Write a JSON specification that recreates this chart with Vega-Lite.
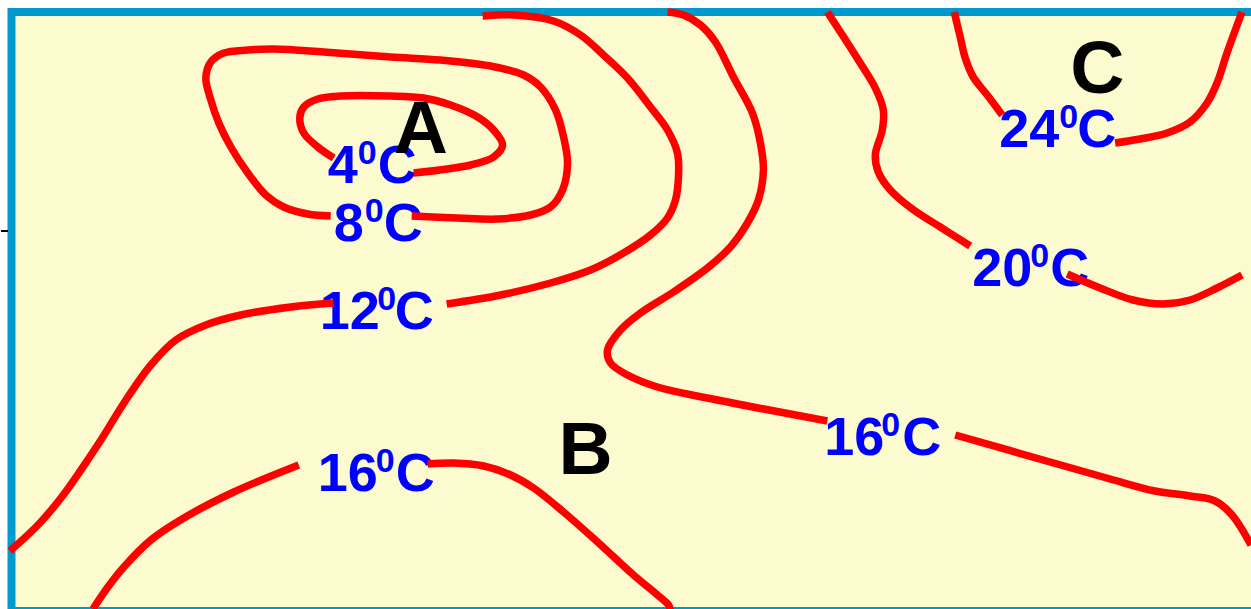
{"$schema":"https://vega.github.io/schema/vega-lite/v6.json","width":1251,"height":609,"autosize":{"type":"fit","contains":"padding"},"padding":0,"background":"#ffffff","view":{"stroke":null},"config":{"axis":{"disable":true}},"datasets":{"map":[{"x":10.5,"y":12,"x2":1262,"y2":611}],"tick":[{"x":0,"x2":7,"y":231}],"numbers":[{"x":327,"y":183,"t":"4"},{"x":333,"y":241,"t":"8"},{"x":319,"y":329,"t":"12"},{"x":317,"y":491,"t":"16"},{"x":824,"y":455,"t":"16"},{"x":972,"y":286,"t":"20"},{"x":999,"y":147,"t":"24"},{"x":377,"y":183,"t":"C"},{"x":383,"y":241,"t":"C"},{"x":394,"y":329,"t":"C"},{"x":395,"y":491,"t":"C"},{"x":902,"y":455,"t":"C"},{"x":1050,"y":286,"t":"C"},{"x":1077,"y":147,"t":"C"}],"sups":[{"x":357,"y":164,"t":"0"},{"x":364,"y":222,"t":"0"},{"x":376.5,"y":310,"t":"0"},{"x":375,"y":472,"t":"0"},{"x":881,"y":436,"t":"0"},{"x":1030,"y":267,"t":"0"},{"x":1059,"y":128,"t":"0"}],"letters":[{"x":393,"y":153,"t":"A"},{"x":558,"y":473.5,"t":"B"},{"x":1070,"y":93,"t":"C"}],"lines":[
{"id":"4a","i":0,"x":333,"y":158},{"id":"4a","i":1,"x":317,"y":147},{"id":"4a","i":2,"x":303,"y":133},{"id":"4a","i":3,"x":299,"y":118},{"id":"4a","i":4,"x":303,"y":107},{"id":"4a","i":5,"x":317,"y":99},{"id":"4a","i":6,"x":340,"y":96},{"id":"4a","i":7,"x":390,"y":96},{"id":"4a","i":8,"x":423,"y":98},{"id":"4a","i":9,"x":450,"y":105},{"id":"4a","i":10,"x":477,"y":117},{"id":"4a","i":11,"x":493,"y":130},{"id":"4a","i":12,"x":502,"y":145},{"id":"4a","i":13,"x":493,"y":157},{"id":"4a","i":14,"x":470,"y":165},{"id":"4a","i":15,"x":413,"y":173},
{"id":"8a","i":0,"x":330,"y":216},{"id":"8a","i":1,"x":307,"y":214},{"id":"8a","i":2,"x":283,"y":207},{"id":"8a","i":3,"x":265,"y":195},{"id":"8a","i":4,"x":247,"y":173},{"id":"8a","i":5,"x":230,"y":147},{"id":"8a","i":6,"x":218,"y":123},{"id":"8a","i":7,"x":210,"y":100},{"id":"8a","i":8,"x":205,"y":78},{"id":"8a","i":9,"x":210,"y":62},{"id":"8a","i":10,"x":223,"y":53},{"id":"8a","i":11,"x":247,"y":50},{"id":"8a","i":12,"x":273,"y":49},{"id":"8a","i":13,"x":323,"y":52},{"id":"8a","i":14,"x":390,"y":57},{"id":"8a","i":15,"x":440,"y":60},{"id":"8a","i":16,"x":490,"y":66},{"id":"8a","i":17,"x":523,"y":75},{"id":"8a","i":18,"x":540,"y":87},{"id":"8a","i":19,"x":555,"y":110},{"id":"8a","i":20,"x":563,"y":137},{"id":"8a","i":21,"x":567,"y":163},{"id":"8a","i":22,"x":562,"y":190},{"id":"8a","i":23,"x":550,"y":207},{"id":"8a","i":24,"x":530,"y":215},{"id":"8a","i":25,"x":497,"y":219},{"id":"8a","i":26,"x":457,"y":218},{"id":"8a","i":27,"x":411,"y":216},
{"id":"12a","i":0,"x":9,"y":551},{"id":"12a","i":1,"x":37,"y":525},{"id":"12a","i":2,"x":60,"y":498},{"id":"12a","i":3,"x":80,"y":470},{"id":"12a","i":4,"x":100,"y":440},{"id":"12a","i":5,"x":125,"y":400},{"id":"12a","i":6,"x":150,"y":365},{"id":"12a","i":7,"x":175,"y":340},{"id":"12a","i":8,"x":205,"y":325},{"id":"12a","i":9,"x":240,"y":315},{"id":"12a","i":10,"x":290,"y":307},{"id":"12a","i":11,"x":333,"y":303},
{"id":"12b","i":0,"x":446,"y":304},{"id":"12b","i":1,"x":500,"y":295},{"id":"12b","i":2,"x":550,"y":283},{"id":"12b","i":3,"x":590,"y":270},{"id":"12b","i":4,"x":623,"y":253},{"id":"12b","i":5,"x":650,"y":235},{"id":"12b","i":6,"x":667,"y":218},{"id":"12b","i":7,"x":675,"y":200},{"id":"12b","i":8,"x":678,"y":177},{"id":"12b","i":9,"x":677,"y":153},{"id":"12b","i":10,"x":667,"y":130},{"id":"12b","i":11,"x":650,"y":107},{"id":"12b","i":12,"x":627,"y":78},{"id":"12b","i":13,"x":603,"y":55},{"id":"12b","i":14,"x":580,"y":35},{"id":"12b","i":15,"x":553,"y":21},{"id":"12b","i":16,"x":514,"y":15},{"id":"12b","i":17,"x":482,"y":16},
{"id":"16a","i":0,"x":667,"y":12},{"id":"16a","i":1,"x":683,"y":15},{"id":"16a","i":2,"x":700,"y":25},{"id":"16a","i":3,"x":715,"y":42},{"id":"16a","i":4,"x":733,"y":77},{"id":"16a","i":5,"x":752,"y":113},{"id":"16a","i":6,"x":760,"y":143},{"id":"16a","i":7,"x":763,"y":170},{"id":"16a","i":8,"x":758,"y":200},{"id":"16a","i":9,"x":747,"y":223},{"id":"16a","i":10,"x":730,"y":247},{"id":"16a","i":11,"x":707,"y":268},{"id":"16a","i":12,"x":673,"y":292},{"id":"16a","i":13,"x":640,"y":313},{"id":"16a","i":14,"x":620,"y":330},{"id":"16a","i":15,"x":607,"y":350},{"id":"16a","i":16,"x":610,"y":363},{"id":"16a","i":17,"x":627,"y":375},{"id":"16a","i":18,"x":657,"y":387},{"id":"16a","i":19,"x":707,"y":398},{"id":"16a","i":20,"x":827,"y":421},
{"id":"16b","i":0,"x":955,"y":435},{"id":"16b","i":1,"x":1050,"y":462},{"id":"16b","i":2,"x":1110,"y":479},{"id":"16b","i":3,"x":1155,"y":491},{"id":"16b","i":4,"x":1190,"y":496},{"id":"16b","i":5,"x":1215,"y":501},{"id":"16b","i":6,"x":1232,"y":515},{"id":"16b","i":7,"x":1251,"y":545},
{"id":"16c","i":0,"x":92,"y":609},{"id":"16c","i":1,"x":107,"y":587},{"id":"16c","i":2,"x":123,"y":567},{"id":"16c","i":3,"x":150,"y":540},{"id":"16c","i":4,"x":183,"y":518},{"id":"16c","i":5,"x":233,"y":492},{"id":"16c","i":6,"x":298,"y":465},
{"id":"16d","i":0,"x":427,"y":464},{"id":"16d","i":1,"x":453,"y":463},{"id":"16d","i":2,"x":483,"y":466},{"id":"16d","i":3,"x":510,"y":475},{"id":"16d","i":4,"x":533,"y":488},{"id":"16d","i":5,"x":563,"y":512},{"id":"16d","i":6,"x":597,"y":542},{"id":"16d","i":7,"x":633,"y":575},{"id":"16d","i":8,"x":657,"y":595},{"id":"16d","i":9,"x":668,"y":605},{"id":"16d","i":10,"x":670,"y":610},
{"id":"20a","i":0,"x":827,"y":12},{"id":"20a","i":1,"x":842,"y":35},{"id":"20a","i":2,"x":858,"y":60},{"id":"20a","i":3,"x":875,"y":88},{"id":"20a","i":4,"x":883,"y":110},{"id":"20a","i":5,"x":882,"y":130},{"id":"20a","i":6,"x":875,"y":155},{"id":"20a","i":7,"x":878,"y":172},{"id":"20a","i":8,"x":890,"y":190},{"id":"20a","i":9,"x":912,"y":209},{"id":"20a","i":10,"x":940,"y":227},{"id":"20a","i":11,"x":970,"y":246},
{"id":"20b","i":0,"x":1067,"y":274},{"id":"20b","i":1,"x":1100,"y":288},{"id":"20b","i":2,"x":1133,"y":300},{"id":"20b","i":3,"x":1163,"y":304},{"id":"20b","i":4,"x":1190,"y":300},{"id":"20b","i":5,"x":1217,"y":288},{"id":"20b","i":6,"x":1242,"y":275},
{"id":"24a","i":0,"x":954,"y":12},{"id":"24a","i":1,"x":960,"y":37},{"id":"24a","i":2,"x":965,"y":58},{"id":"24a","i":3,"x":973,"y":77},{"id":"24a","i":4,"x":987,"y":95},{"id":"24a","i":5,"x":1002,"y":115},
{"id":"24b","i":0,"x":1115,"y":143},{"id":"24b","i":1,"x":1140,"y":139},{"id":"24b","i":2,"x":1167,"y":133},{"id":"24b","i":3,"x":1190,"y":122},{"id":"24b","i":4,"x":1207,"y":103},{"id":"24b","i":5,"x":1217,"y":83},{"id":"24b","i":6,"x":1227,"y":53},{"id":"24b","i":7,"x":1242,"y":12}
]},"encoding":{"x":{"field":"x","type":"quantitative","scale":{"domain":[0,1251],"nice":false,"zero":false},"axis":null},"y":{"field":"y","type":"quantitative","scale":{"domain":[609,0],"nice":false,"zero":false},"axis":null}},"layer":[
{"data":{"name":"map"},"mark":{"type":"rect","fill":"#FCFACF","stroke":"#0099CC","strokeWidth":8,"clip":true},"encoding":{"x2":{"field":"x2"},"y2":{"field":"y2"}}},
{"data":{"name":"tick"},"mark":{"type":"rule","stroke":"#000000","strokeWidth":2},"encoding":{"x2":{"field":"x2"}}},
{"data":{"name":"numbers"},"mark":{"type":"text","font":"Liberation Sans","fontWeight":"bold","fontSize":54,"fill":"#0000FF","align":"left","baseline":"alphabetic"},"encoding":{"text":{"field":"t"}}},
{"data":{"name":"sups"},"mark":{"type":"text","font":"Liberation Sans","fontWeight":"bold","fontSize":34,"fill":"#0000FF","align":"left","baseline":"alphabetic"},"encoding":{"text":{"field":"t"}}},
{"data":{"name":"lines"},"mark":{"type":"line","stroke":"#FF0000","strokeWidth":7.5,"interpolate":"catmull-rom","strokeCap":"butt","clip":true},"encoding":{"detail":{"field":"id"},"order":{"field":"i","type":"quantitative"}}},
{"data":{"name":"letters"},"mark":{"type":"text","font":"Liberation Sans","fontWeight":"bold","fontSize":75,"fill":"#000000","align":"left","baseline":"alphabetic"},"encoding":{"text":{"field":"t"}}}
]}
